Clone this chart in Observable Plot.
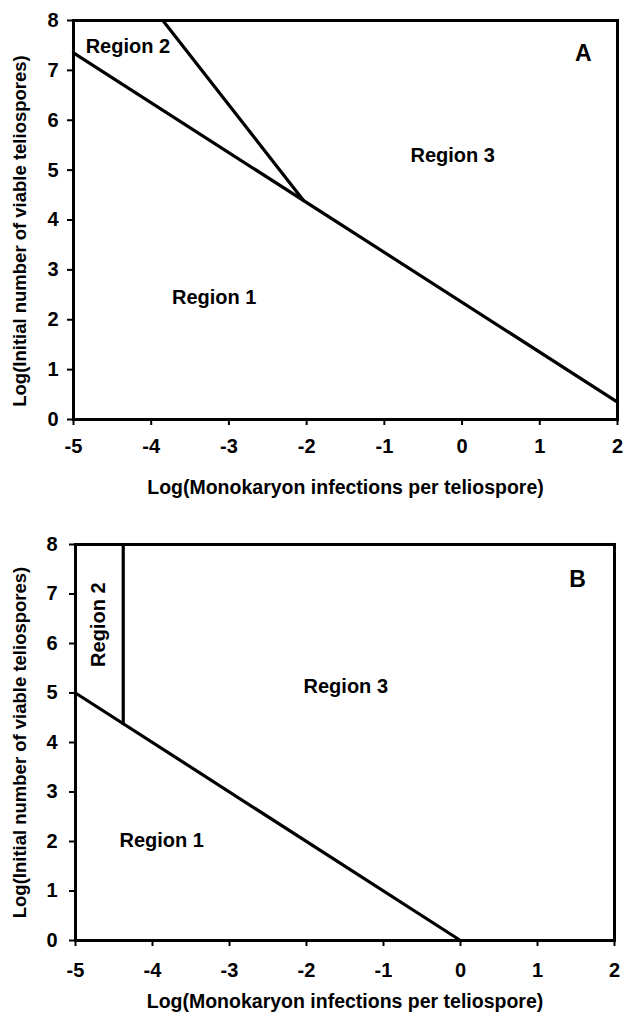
<!DOCTYPE html>
<html><head><meta charset="utf-8">
<script src="https://cdn.jsdelivr.net/npm/d3@7"></script>
<script src="https://cdn.jsdelivr.net/npm/@observablehq/plot@0.6"></script>
<style>body{margin:0;background:#fff} #chart svg{display:block}</style>
</head><body><div id="chart"></div>
<script>
const xTicks = [-5, -4, -3, -2, -1, 0, 1, 2];
const yTicks = [0, 1, 2, 3, 4, 5, 6, 7, 8];
const xTitle = "Log(Monokaryon infections per teliospore)";
const yTitle = "Log(Initial number of viable teliospores)";

// Panel A boundaries
const a1X = [-5, 2];
const a1Y = [7.35, 0.35];
const a2X = [-3.85, -2.04];
const a2Y = [8, 4.39];
// Panel A labels
const aLabels = ["Region 2", "Region 3", "Region 1"];
const aLabelX = [-4.3, -0.12, -3.19];
const aLabelY = [7.48, 5.3, 2.45];
const aLetter = ["A"];
const aLetterX = [1.56];
const aLetterY = [7.34];

// Panel B boundaries
const b1X = [-5, 0];
const b1Y = [5, 0];
const b2X = [-4.38, -4.38];
const b2Y = [8, 4.38];
// Panel B labels
const bLabels = ["Region 3", "Region 1"];
const bLabelX = [-1.49, -3.88];
const bLabelY = [5.13, 2.02];
const bLetter = ["B"];
const bLetterX = [1.52];
const bLetterY = [7.29];
const bVertLabel = ["Region 2"];
const bVertX = [-4.70];
const bVertY = [6.38];

const zip = (xs, ys, extra) => xs.map((x, i) => ({x, y: ys[i], t: extra ? extra[i] : null}));
const fmt = d => String(d);
const font = {fontFamily: "'Liberation Sans', Arial, sans-serif", fontSize: "20px", fontWeight: "bold", color: "#000", background: "#fff"};

function panel(o) {
  return Plot.plot({
    width: 623, height: o.height,
    marginLeft: o.ml, marginRight: o.mr, marginTop: o.mt, marginBottom: o.mb,
    style: font,
    x: {domain: [-5, 2]},
    y: {domain: [0, 8]},
    marks: [
      Plot.axisX({ticks: xTicks, tickFormat: fmt, tickSize: 6, tickPadding: o.xpad, strokeWidth: 2, label: null}),
      Plot.axisY({ticks: yTicks, tickFormat: fmt, tickSize: 6, tickPadding: o.ypad, strokeWidth: 2, label: null}),
      Plot.frame({stroke: "#000", strokeWidth: 3}),
      ...o.lines.map(l => Plot.line(l, {x: "x", y: "y", stroke: "#000", strokeWidth: 3.2})),
      Plot.text(o.labels, {x: "x", y: "y", text: "t", fill: "#000"}),
      Plot.text(o.letter, {x: "x", y: "y", text: "t", fill: "#000", fontSize: 23}),
      ...(o.vlabels ? [Plot.text(o.vlabels, {x: "x", y: "y", text: "t", rotate: -90, fill: "#000"})] : []),
      Plot.text([xTitle], {frameAnchor: "bottom", dy: o.xdy, text: d => d, textAnchor: "middle", lineAnchor: "middle", fill: "#000", fontSize: 19.5}),
      Plot.text([yTitle], {frameAnchor: "left", dx: o.ydx, dy: o.ydy, rotate: -90, text: d => d, textAnchor: "middle", lineAnchor: "middle", fill: "#000", fontSize: 18.5})
    ]
  });
}

const chart = document.getElementById("chart");
chart.append(panel({
  height: 510, ml: 73, mr: 6, mt: 20, mb: 91, xpad: 13, ypad: 9, xdy: 68, ydx: -53, ydy: 11,
  lines: [zip(a1X, a1Y), zip(a2X, a2Y)],
  labels: zip(aLabelX, aLabelY, aLabels),
  letter: zip(aLetterX, aLetterY, aLetter)
}));
chart.append(panel({
  height: 511, ml: 75, mr: 9, mt: 34, mb: 81, xpad: 16, ypad: 12, xdy: 61, ydx: -55, ydy: 0,
  lines: [zip(b1X, b1Y), zip(b2X, b2Y)],
  labels: zip(bLabelX, bLabelY, bLabels),
  letter: zip(bLetterX, bLetterY, bLetter),
  vlabels: zip(bVertX, bVertY, bVertLabel)
}));
</script></body></html>
